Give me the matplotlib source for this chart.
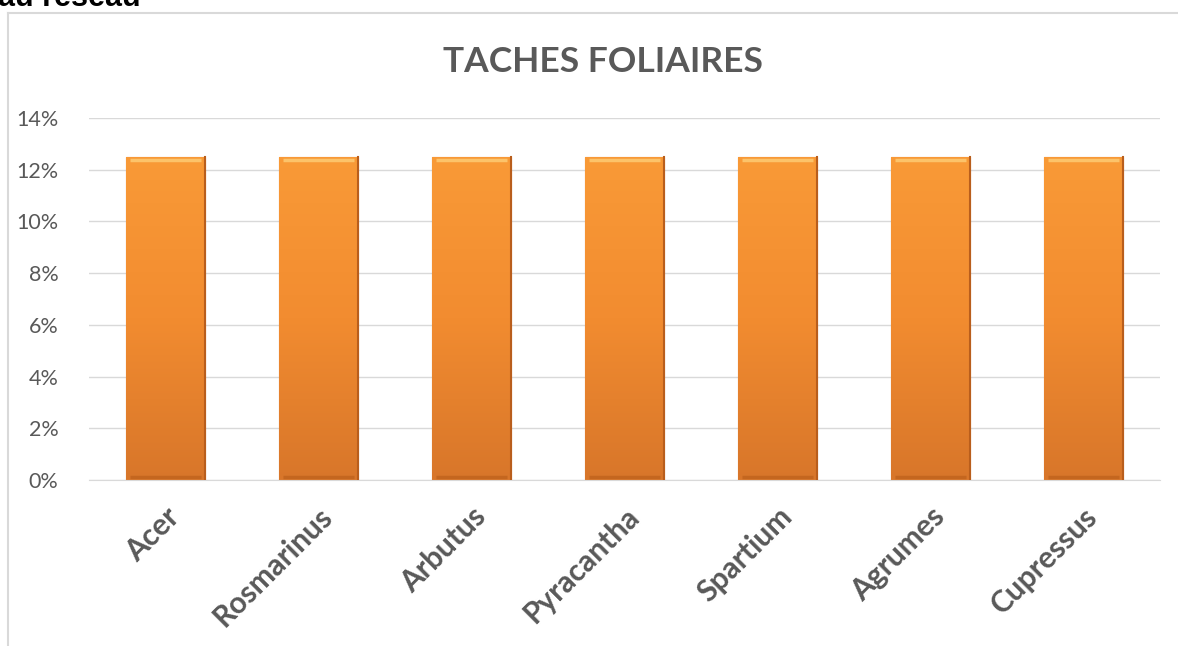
import numpy as np
import matplotlib.pyplot as plt
import matplotlib.ticker as ticker
from matplotlib.colors import LinearSegmentedColormap
from matplotlib.lines import Line2D

categories = ['Acer', 'Rosmarinus', 'Arbutus', 'Pyracantha', 'Spartium', 'Agrumes', 'Cupressus']
values = [0.125, 0.125, 0.125, 0.125, 0.125, 0.125, 0.125]
yticks = [0, 0.02, 0.04, 0.06, 0.08, 0.10, 0.12, 0.14]

plt.rcParams['font.family'] = ['Lato', 'DejaVu Sans']

fig = plt.figure(figsize=(11.78, 6.46), dpi=100)
ax = fig.add_axes([89/1178, 166/646, (1160-89)/1178, (480-118)/646])

# chart frame (partly off the picture, like the screenshot)
fig.add_artist(Line2D([8/1178, 8/1178], [0, 1-13/646], color='#D9D9D9', lw=1.5))
fig.add_artist(Line2D([8/1178, 1], [1-13/646, 1-13/646], color='#D9D9D9', lw=1.5))
fig.text(-0.002, 1 - 6/646, 'au réseau', fontsize=22, fontweight='bold', color='black',
         ha='left', va='baseline', family=['Liberation Sans', 'DejaVu Sans'])

cmap = LinearSegmentedColormap.from_list('orng', ['#D8762A', '#F28C30', '#F99A37'])
grad = np.linspace(0, 1, 256).reshape(-1, 1)

x = np.arange(len(categories))
bars = ax.bar(x, values, width=0.51, color='#F39131', edgecolor='#C96A22', linewidth=0.8, zorder=2)
for b in bars:
    x0, w, h = b.get_x(), b.get_width(), b.get_height()
    im = ax.imshow(grad, cmap=cmap, origin='lower', aspect='auto',
                   extent=[x0, x0 + w, 0, h], zorder=2.5)
    im.set_clip_path(b)
    # bevel-ish highlight at the top and shade at the bottom / right side
    ax.plot([x0 + w*0.05, x0 + w*0.95], [h - 0.0012, h - 0.0012], color='#FCC36A', lw=2.5,
            solid_capstyle='butt', zorder=3)
    ax.plot([x0 + w*0.05, x0 + w*0.95], [0.0012, 0.0012], color='#C4661F', lw=2.5,
            solid_capstyle='butt', zorder=3)
    ax.plot([x0 + w, x0 + w], [0, h], color='#B95E1C', lw=1.5, zorder=3)

ax.set_xlim(-0.5, len(categories) - 0.5)
ax.set_ylim(0, 0.14)
ax.set_yticks(yticks)
ax.yaxis.set_major_formatter(ticker.FuncFormatter(lambda v, p: '{:.0f}%'.format(v*100)))
ax.grid(axis='y', color='#D9D9D9', lw=1, zorder=0)
ax.set_axisbelow(True)
for s in ['top', 'right', 'left']:
    ax.spines[s].set_visible(False)
ax.spines['bottom'].set_color('#D9D9D9')
ax.tick_params(axis='y', length=0, pad=22, labelsize=15.5, labelcolor='#595959')
ax.tick_params(axis='x', length=0, pad=16)
ax.set_xticks(x)
ax.set_xticklabels(categories, rotation=45, ha='right', rotation_mode='anchor',
                   fontsize=21.5, fontweight='bold', color='#595959')

fig.text(603/1178, 1 - 62/646, 'TACHES FOLIAIRES', fontsize=25.5, fontweight='bold',
         color='#595959', ha='center', va='center')

plt.savefig('out.png', dpi=100)
